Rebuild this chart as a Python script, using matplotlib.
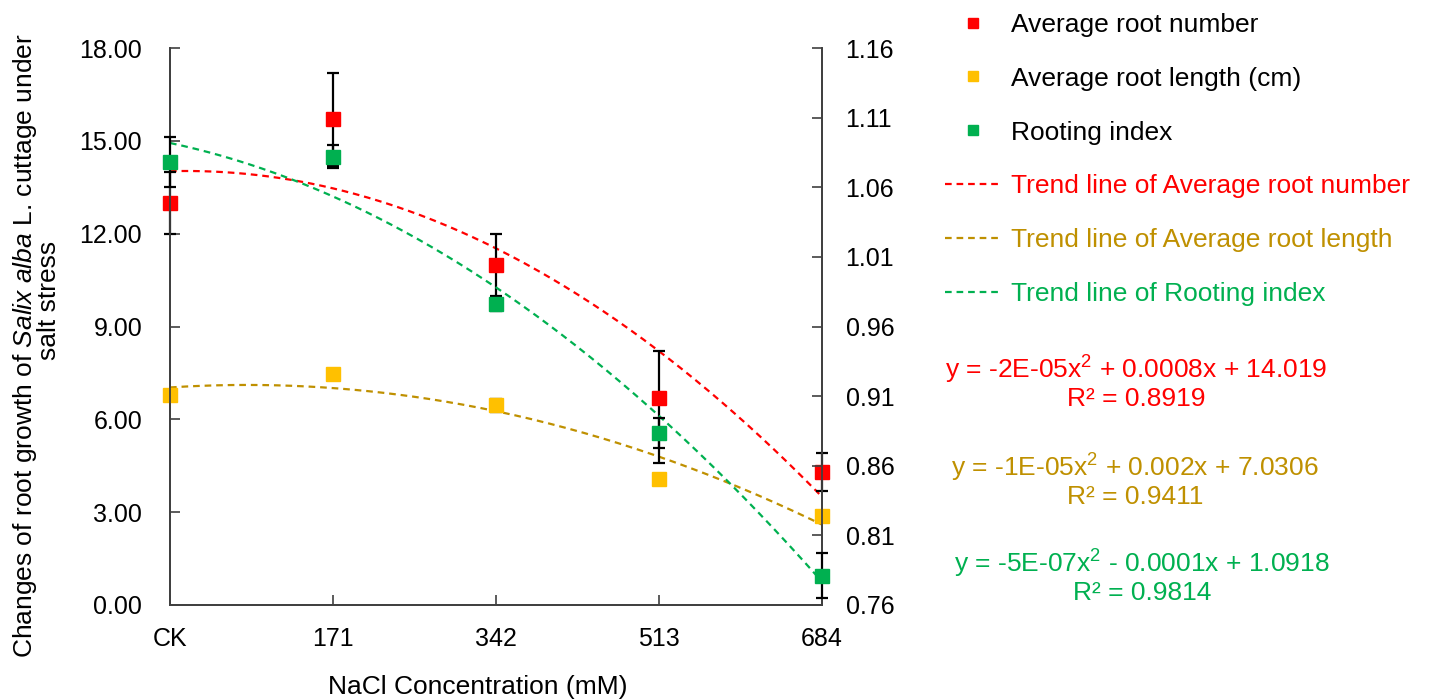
import numpy as np
import matplotlib
matplotlib.use("Agg")
import matplotlib.pyplot as plt
from matplotlib.lines import Line2D

plt.rcParams['font.family'] = ['Liberation Sans', 'DejaVu Sans']
plt.rcParams['font.size'] = 19
plt.rcParams['mathtext.fontset'] = 'custom'
plt.rcParams['mathtext.rm'] = 'Liberation Sans'
plt.rcParams['mathtext.it'] = 'Liberation Sans:italic'

# ---------------- data ----------------
x_pos = [0, 171, 342, 513, 684]
x_labels = ['CK', '171', '342', '513', '684']

root_number = [13.0, 15.7, 11.0, 6.7, 4.3]
root_number_err_lo = [1.0, 1.5, 1.0, 2.1, 0.6]
root_number_err_hi = [1.0, 1.5, 1.0, 1.5, 0.6]
root_length = [6.8, 7.47, 6.45, 4.07, 2.87]
root_length_err = [0.1, 0.1, 0.2, 0.1, 0.1]
rooting_index = [1.078, 1.082, 0.976, 0.8835, 0.781]
rooting_index_err = [0.018, 0.008, 0.005, 0.011, 0.016]

# quadratic trend coefficients (a, b, c)
trend_number = [-2.366e-5, 0.0008, 14.019]
trend_length = [-1.24e-5, 0.002, 7.0306]
trend_index = [-4.6e-7, -1.46e-4, 1.0918]

RED = '#FF0000'
YEL = '#FFC000'
GOLD = '#BF9000'
GRN = '#00B050'
AXC = '#404040'
DASH = (0, (3, 2.2))

fig = plt.figure(figsize=(14.29, 7.0), dpi=100)
ax = fig.add_axes([170/1429, 95/700, 652/1429, 557/700])
ax2 = ax.twinx()

xx = np.linspace(0, 684, 300)
ax.plot(xx, np.polyval(trend_number, xx), color=RED, ls=DASH, lw=1.6, zorder=2)
ax.plot(xx, np.polyval(trend_length, xx), color=GOLD, ls=DASH, lw=1.6, zorder=2)
ax2.plot(xx, np.polyval(trend_index, xx), color=GRN, ls=DASH, lw=1.6, zorder=2)

ekw = dict(fmt='s', ms=9.5, ecolor='black', elinewidth=1.6, capsize=4, capthick=1.6,
           clip_on=False, zorder=3)
eb = [ax.errorbar(x_pos, root_number, yerr=[root_number_err_lo, root_number_err_hi], color=RED, **ekw),
      ax.errorbar(x_pos, root_length, yerr=root_length_err, color=YEL, **ekw),
      ax2.errorbar(x_pos, rooting_index, yerr=rooting_index_err, color=GRN, **ekw)]
for bars in eb:
    for art in list(bars.lines[1]) + list(bars.lines[2]):
        art.set_clip_on(False)

ax.set_xlim(0, 684)
ax.set_ylim(0, 18)
ax2.set_ylim(0.76, 1.16)
ax.set_xticks(x_pos)
ax.set_xticklabels(x_labels)
l_ticks = [0, 3, 6, 9, 12, 15, 18]
ax.set_yticks(l_ticks)
ax.set_yticklabels([f'{v:.2f}' for v in l_ticks])
r_ticks = [0.76, 0.81, 0.86, 0.91, 0.96, 1.01, 1.06, 1.11, 1.16]
ax2.set_yticks(r_ticks)
ax2.set_yticklabels([f'{v:.2f}' for v in r_ticks])

for a in (ax, ax2):
    a.spines['top'].set_visible(False)
    for s in ('left', 'right', 'bottom'):
        a.spines[s].set_color(AXC)
        a.spines[s].set_linewidth(1.3)
    a.tick_params(direction='in', length=7, width=1.2, color=AXC, labelsize=18)
ax.tick_params(axis='x', pad=16)
ax.tick_params(axis='y', pad=20)
ax2.tick_params(axis='y', pad=17)
ax2.set_zorder(ax.get_zorder() + 1)

ax.set_xlabel('NaCl Concentration (mM)', fontsize=19)
ax.xaxis.set_label_coords((478 - 170) / 652, -0.125)

# y label: two lines placed like the original
fig.text(25/1429, 1 - 346/700, 'Changes of root growth of $\\it{Salix\\ alba}$ L. cuttage under',
         rotation=90, ha='center', va='center', fontsize=19)
fig.text(49/1429, 1 - 300/700, 'salt stress', rotation=90, ha='center', va='center', fontsize=19)

# legend
handles = [
    Line2D([], [], ls='none', marker='s', ms=6.5, color=RED),
    Line2D([], [], ls='none', marker='s', ms=6.5, color=YEL),
    Line2D([], [], ls='none', marker='s', ms=6.5, color=GRN),
    Line2D([], [], ls=DASH, lw=1.6, color=RED),
    Line2D([], [], ls=DASH, lw=1.6, color=GOLD),
    Line2D([], [], ls=DASH, lw=1.6, color=GRN),
]
labels = ['Average root number', 'Average root length (cm)', 'Rooting index',
          'Trend line of Average root number', 'Trend line of Average root length',
          'Trend line of Rooting index']
fig.legend(handles, labels, loc='upper left', bbox_to_anchor=(927/1429, 1.008),
           frameon=False, fontsize=19, handlelength=2.1, handletextpad=0.38,
           labelspacing=1.13, borderaxespad=0.3,
           labelcolor=['black', 'black', 'black', RED, GOLD, GRN])

eqs = ['y = -2E-05x$^2$ + 0.0008x + 14.019\nR² = 0.8919',
       'y = -1E-05x$^2$ + 0.002x + 7.0306\nR² = 0.9411',
       'y = -5E-07x$^2$ - 0.0001x + 1.0918\nR² = 0.9814']
eq_colors = [RED, GOLD, GRN]
eq_xy = [(1136, 382), (1135, 480), (1142, 576)]
for t, c, (px, py) in zip(eqs, eq_colors, eq_xy):
    fig.text(px/1429, 1 - py/700, t, color=c, fontsize=19, ha='center', va='center',
             multialignment='center', linespacing=1.05)

fig.savefig('out.png', dpi=100)
